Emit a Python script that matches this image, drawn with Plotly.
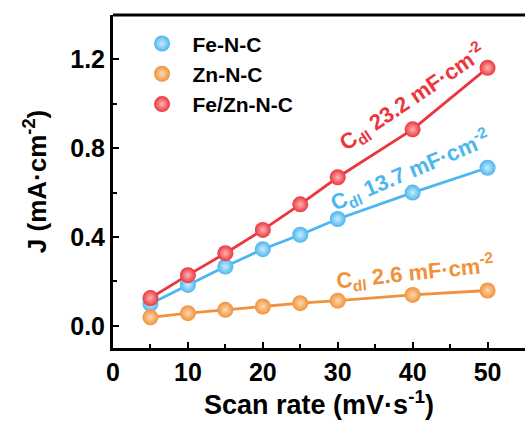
import plotly.graph_objects as go

# Scan rates (mV/s) and current density differences (mA/cm^2)
scan_rate = [5, 10, 15, 20, 25, 30, 40, 50]
j_fe = [0.099, 0.184, 0.267, 0.345, 0.410, 0.481, 0.600, 0.712]
j_zn = [0.038, 0.057, 0.072, 0.087, 0.102, 0.113, 0.139, 0.159]
j_fezn = [0.125, 0.228, 0.327, 0.432, 0.547, 0.669, 0.885, 1.162]

names = ["Fe-N-C", "Zn-N-C", "Fe/Zn-N-C"]
cdl_labels = ["13.7", "2.6", "23.2"]
line_colors = ["#4cb6ee", "#f0923c", "#ec353c"]
center_colors = ["#c8ecff", "#ffd9b0", "#ffb4b4"]

# annotation anchors (data coords) and text angles
label_pos = [(39.7, 0.70, -23), (40.3, 0.24, -6), (39.9, 1.03, -34)]

FONT = "Arial, Liberation Sans, sans-serif"

fig = go.Figure()
series = [j_fe, j_zn, j_fezn]

for ys, col in zip(series, line_colors):
    fig.add_trace(go.Scatter(x=scan_rate, y=ys, mode="lines",
                             line=dict(color=col, width=2.8),
                             showlegend=False, hoverinfo="skip"))

for ys, name, col, cc in zip(series, names, line_colors, center_colors):
    fig.add_trace(go.Scatter(
        x=scan_rate, y=ys, mode="markers", name=name,
        marker=dict(size=16, color=col, line=dict(width=0),
                    gradient=dict(type="radial", color=cc)),
    ))

for (ax, ay, ang), val, col in zip(label_pos, cdl_labels, line_colors):
    fig.add_annotation(
        x=ax, y=ay, xref="x", yref="y", showarrow=False, textangle=ang,
        text=f"C<sub>dl</sub> {val} mF·cm<sup>-2</sup>",
        font=dict(family=FONT, size=22, color=col, weight="bold"),
    )

# top border of the frame (right side left open)
fig.add_shape(type="line", xref="paper", yref="paper", x0=0, x1=1, y0=1, y1=1,
              line=dict(color="black", width=3))

axis_common = dict(
    showline=True, linecolor="black", linewidth=3, mirror=False,
    ticks="inside", ticklen=6, tickwidth=2, tickcolor="black",
    showgrid=False, zeroline=False,
    tickfont=dict(family=FONT, size=25, color="black", weight="bold"),
)

fig.update_layout(
    width=525, height=421,
    margin=dict(l=113, r=0, t=15, b=73),
    paper_bgcolor="white", plot_bgcolor="white",
    xaxis=dict(range=[0, 55], tickvals=[0, 10, 20, 30, 40, 50],
               minor=dict(tickvals=[5, 15, 25, 35, 45], ticks="inside",
                          ticklen=4, tickwidth=2, tickcolor="black"),
               title=dict(text="Scan rate (mV·s<sup>-1</sup>)", standoff=3,
                          font=dict(family=FONT, size=27, color="black", weight="bold")),
               **axis_common),
    yaxis=dict(range=[-0.1, 1.4], tickvals=[0.0, 0.4, 0.8, 1.2],
               ticktext=["0.0", "0.4", "0.8", "1.2"],
               minor=dict(tickvals=[0.2, 0.6, 1.0], ticks="inside",
                          ticklen=4, tickwidth=2, tickcolor="black"),
               title=dict(text="J (mA·cm<sup>-2</sup>)", standoff=17,
                          font=dict(family=FONT, size=26, color="black", weight="bold")),
               **axis_common),
    legend=dict(x=0.045, y=0.975, xanchor="left", yanchor="top",
                bgcolor="rgba(0,0,0,0)", itemwidth=51,
                font=dict(family=FONT, size=21, color="black", weight="bold"),
                tracegroupgap=0),
)

fig.write_html("out.html")
